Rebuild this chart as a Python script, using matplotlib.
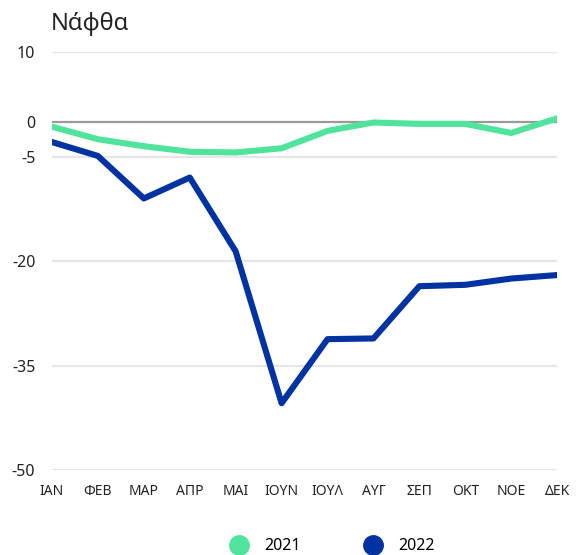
import matplotlib.pyplot as plt
from matplotlib.lines import Line2D

plt.rcParams['font.family'] = ['Noto Sans', 'DejaVu Sans']

months = ['ΙΑΝ', 'ΦΕΒ', 'ΜΑΡ', 'ΑΠΡ', 'ΜΑΙ', 'ΙΟΥΝ', 'ΙΟΥΛ', 'ΑΥΓ', 'ΣΕΠ', 'ΟΚΤ', 'ΝΟΕ', 'ΔΕΚ']
y2021 = [-0.7, -2.5, -3.5, -4.3, -4.4, -3.8, -1.3, -0.1, -0.3, -0.3, -1.6, 0.5]
y2022 = [-2.9, -4.9, -11.0, -8.0, -18.6, -40.4, -31.2, -31.1, -23.6, -23.4, -22.5, -22.0]
yticks = [10, 0, -5, -20, -35, -50]

green = '#4fe39b'
blue = '#0033a1'

fig = plt.figure(figsize=(5.82, 5.55), dpi=100)
ax = fig.add_axes([0.0893, 0.153, 0.868, 0.753])

x = range(len(months))
# light grid lines, darker zero line
for t in yticks:
    if t == 0:
        ax.axhline(t, color='#9a9a9a', lw=1.6, zorder=1)
    else:
        ax.axhline(t, color='#e6e6ea', lw=1.6, zorder=1)

ax.plot(x, y2022, color=blue, lw=4.4, solid_joinstyle='round', solid_capstyle='round', zorder=3)
ax.plot(x, y2021, color=green, lw=4.4, solid_joinstyle='round', solid_capstyle='round', zorder=4)

ax.set_xlim(0, len(months) - 1)
ax.set_ylim(-50, 10)
ax.set_yticks(yticks)
ax.set_yticklabels([str(t) for t in yticks], fontsize=11.5, color='#222222')
ax.set_xticks(list(x))
ax.set_xticklabels(months, fontsize=10, color='#222222')
ax.tick_params(length=0)
ax.tick_params(axis='y', pad=12)
ax.tick_params(axis='x', pad=10)
for s in ax.spines.values():
    s.set_visible(False)

fig.text(0.088, 0.957, 'Νάφθα', fontsize=17, color='#222222', va='center', ha='left')

handles = [Line2D([], [], marker='o', ls='', color=green, markersize=14, label='2021'),
           Line2D([], [], marker='o', ls='', color=blue, markersize=14, label='2022')]
fig.legend(handles=handles, loc='center', bbox_to_anchor=(0.565, 0.016), ncol=2,
           frameon=False, fontsize=11.5, handletextpad=0.6, columnspacing=3.5)

fig.savefig('out.png', dpi=100)
